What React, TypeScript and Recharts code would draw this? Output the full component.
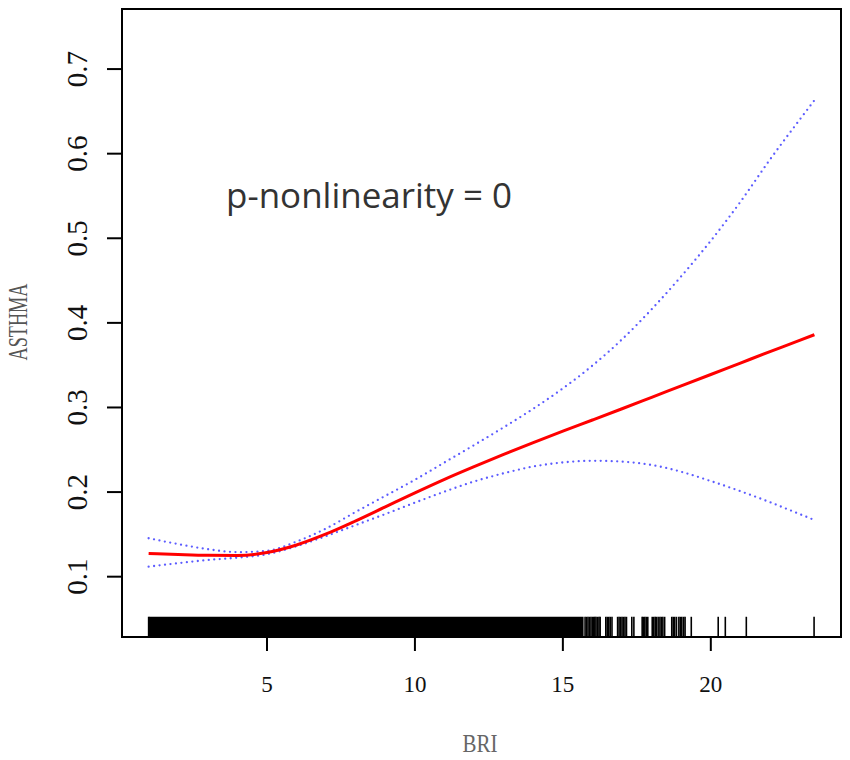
import React from "react";
import {
  ComposedChart,
  Line,
  XAxis,
  YAxis,
  ReferenceArea,
  ReferenceLine,
  Customized,
} from "recharts";

// BRI values (x) at which the fitted curve and its confidence band were read
const bri = [1, 2, 3, 4, 5, 6, 7, 8, 9, 10, 11, 12, 13, 14, 15, 16, 17, 18, 19, 20, 21, 22, 23, 23.5];
// fitted ASTHMA probability (red solid)
const fit = [
  0.1275, 0.1262, 0.1252, 0.125, 0.1285, 0.1375, 0.1505, 0.166, 0.1825, 0.199, 0.215, 0.23,
  0.2445, 0.2585, 0.272, 0.2852, 0.2985, 0.312, 0.3255, 0.339, 0.3525, 0.366, 0.3792, 0.386,
];
// upper confidence limit (blue dotted)
const upperCI = [
  0.1454, 0.1385, 0.1325, 0.129, 0.1305, 0.1415, 0.157, 0.1765, 0.1955, 0.2145, 0.235, 0.2555,
  0.2765, 0.2985, 0.3225, 0.3495, 0.3805, 0.416, 0.455, 0.497, 0.543, 0.593, 0.64, 0.663,
];
// lower confidence limit (blue dotted)
const lowerCI = [
  0.1118, 0.116, 0.1197, 0.1225, 0.1265, 0.136, 0.148, 0.161, 0.174, 0.1875, 0.2005, 0.2125,
  0.2222, 0.2302, 0.235, 0.237, 0.236, 0.232, 0.224, 0.213, 0.201, 0.188, 0.174, 0.167,
];
// rug: dense solid band, then individual observations
const rugBand = [1.0, 15.7];
const rugTicks = [
  1.0, 15.75, 15.8, 15.85, 15.9, 15.95, 16.0, 16.04, 16.08, 16.12, 16.17, 16.22, 16.26, 16.45,
  16.5, 16.55, 16.6, 16.66, 16.85, 16.9, 16.95, 17.0, 17.05, 17.1, 17.15, 17.33, 17.4, 17.68,
  17.72, 17.77, 17.82, 17.87, 18.02, 18.07, 18.12, 18.16, 18.22, 18.28, 18.33, 18.38, 18.44,
  18.68, 18.73, 18.78, 18.84, 18.92, 18.97, 19.02, 19.08, 19.13, 19.34, 20.25, 20.49, 21.2, 23.49,
];
const rugRange = [0.0287, 0.0526];

const xTicks = [5, 10, 15, 20];
const yTicks = [0.1, 0.2, 0.3, 0.4, 0.5, 0.6, 0.7];
const xDomain = [0.1, 24.4];
const yDomain = [0.0287, 0.771];

const data = bri.map((x, i) => ({ x, fit: fit[i], upper: upperCI[i], lower: lowerCI[i] }));

const SERIF = "'Liberation Serif', 'Times New Roman', serif";

const YTick = (props: any) => {
  const { y, payload } = props;
  const bx = 87;
  return (
    <text
      x={bx}
      y={y}
      transform={`rotate(-90, ${bx}, ${y})`}
      textAnchor="middle"
      fontFamily={SERIF}
      fontSize={29}
      fill="#111"
    >
      {String(payload.value)}
    </text>
  );
};

const XTick = (props: any) => {
  const { x, payload } = props;
  return (
    <text x={x} y={692} textAnchor="middle" fontFamily={SERIF} fontSize={23} fill="#111">
      {String(payload.value)}
    </text>
  );
};

const Labels = () => (
  <g>
    <text
      x={226}
      y={208}
      fontFamily="'Open Sans', 'Noto Sans', sans-serif"
      fontSize={34}
      fill="#333"
      textLength={286}
      lengthAdjust="spacingAndGlyphs"
    >
      p-nonlinearity = 0
    </text>
    <text
      x={480}
      y={752}
      textAnchor="middle"
      fontFamily={SERIF}
      fontSize={25}
      fill="#666"
      textLength={35}
      lengthAdjust="spacingAndGlyphs"
    >
      BRI
    </text>
    <text
      x={27}
      y={322}
      transform="rotate(-90, 27, 322)"
      textAnchor="middle"
      fontFamily={SERIF}
      fontSize={27}
      fill="#555"
      textLength={77}
      lengthAdjust="spacingAndGlyphs"
    >
      ASTHMA
    </text>
  </g>
);

export default function App() {
  return (
    <div style={{ position: "absolute", left: 0, top: 0, width: 850, height: 760, background: "#fff" }}>
      <ComposedChart
        width={850}
        height={760}
        data={data}
        margin={{ top: 9, right: 9, left: 0, bottom: 0 }}
      >
        <XAxis
          type="number"
          dataKey="x"
          domain={xDomain}
          ticks={xTicks}
          allowDataOverflow
          axisLine={false}
          tickSize={14}
          tickLine={{ stroke: "#000", strokeWidth: 2 }}
          tick={<XTick />}
          height={123}
        />
        <YAxis
          type="number"
          domain={yDomain}
          ticks={yTicks}
          allowDataOverflow
          axisLine={false}
          tickSize={15}
          tickLine={{ stroke: "#000", strokeWidth: 2 }}
          tick={<YTick />}
          width={122}
        />
        <ReferenceArea
          x1={rugBand[0]}
          x2={rugBand[1]}
          y1={rugRange[0]}
          y2={rugRange[1]}
          fill="#000"
          fillOpacity={1}
          stroke="none"
        />
        {rugTicks.map((v, i) => (
          <ReferenceLine
            key={i}
            segment={[
              { x: v, y: rugRange[0] },
              { x: v, y: rugRange[1] },
            ]}
            stroke="#000"
            strokeWidth={1.6}
          />
        ))}
        <Line
          type="monotone"
          dataKey="upper"
          stroke="#5c5cff"
          strokeWidth={2.3}
          strokeDasharray="0 5.5"
          strokeLinecap="round"
          dot={false}
          isAnimationActive={false}
        />
        <Line
          type="monotone"
          dataKey="lower"
          stroke="#5c5cff"
          strokeWidth={2.3}
          strokeDasharray="0 5.5"
          strokeLinecap="round"
          dot={false}
          isAnimationActive={false}
        />
        <Line
          type="monotone"
          dataKey="fit"
          stroke="#ff0000"
          strokeWidth={3}
          dot={false}
          isAnimationActive={false}
        />
        <ReferenceArea
          x1={xDomain[0]}
          x2={xDomain[1]}
          y1={yDomain[0]}
          y2={yDomain[1]}
          fill="none"
          stroke="#000"
          strokeWidth={2}
        />
        <Customized component={Labels} />
      </ComposedChart>
    </div>
  );
}
